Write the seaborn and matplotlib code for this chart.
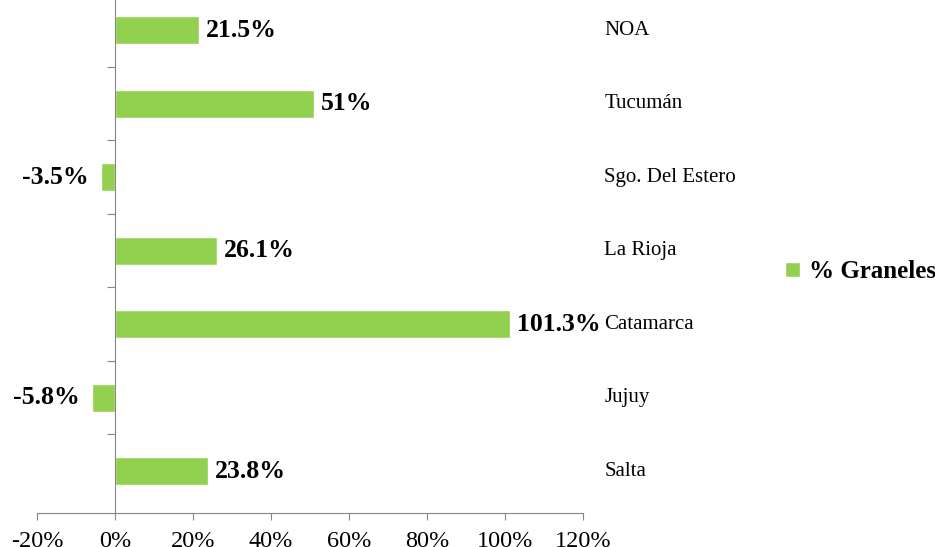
import matplotlib
matplotlib.use('Agg')
import matplotlib.pyplot as plt
import seaborn as sns
import pandas as pd
import numpy as np

regiones = ['NOA', 'Tucumán', 'Sgo. Del Estero', 'La Rioja', 'Catamarca', 'Jujuy', 'Salta']
graneles = [21.5, 51.0, -3.5, 26.1, 101.3, -5.8, 23.8]
etiquetas = ['21.5%', '51%', '-3.5%', '26.1%', '101.3%', '-5.8%', '23.8%']
x_ticks = [-20, 0, 20, 40, 60, 80, 100, 120]

df = pd.DataFrame({'region': regiones, 'valor': graneles})

sns.set_style('white')
plt.rcParams['font.family'] = ['Liberation Serif', 'DejaVu Serif']
plt.rcParams['text.color'] = 'black'
plt.rcParams['xtick.color'] = '#868686'
plt.rcParams['xtick.labelcolor'] = 'black'

fig = plt.figure(figsize=(9.35, 5.47), dpi=100)
ax = fig.add_axes([0.0396, 0.0622, 0.5839, 0.9378])

sns.barplot(data=df, x='valor', y='region', orient='h', color='#92D050',
            width=0.38, saturation=1, label='% Graneles', ax=ax)

ax.set_xlim(-20, 120)
ax.set_ylim(6.57, -0.41)
ax.set_xticks(x_ticks)
ax.set_xticklabels([f'{t}%' for t in x_ticks], fontsize=17.5)
ax.set_yticks(np.arange(0.5, 6.5, 1))
ax.set_yticklabels([])
ax.set_xlabel('')
ax.set_ylabel('')

for s in ['top', 'right']:
    ax.spines[s].set_visible(False)
ax.spines['left'].set_position(('data', 0))
ax.spines['left'].set_color('#868686')
ax.spines['bottom'].set_color('#868686')
ax.tick_params(axis='x', direction='out', length=5, pad=8, bottom=True)
ax.tick_params(axis='y', direction='out', length=6, color='#868686', left=True)

for i, (v, t) in enumerate(zip(graneles, etiquetas)):
    if v >= 0:
        ax.text(v + 1.8, i, t, va='center', ha='left', fontsize=18.5, fontweight='bold')
    else:
        ax.text(v - 3.2, i, t, va='center', ha='right', fontsize=18.5, fontweight='bold')
    ax.text(125.5, i, regiones[i], va='center', ha='left', fontsize=15, clip_on=False)

leg = ax.legend(loc='center left', bbox_to_anchor=(0.840, 0.503), bbox_transform=fig.transFigure,
                frameon=False, handlelength=0.6, handleheight=0.6, handletextpad=0.35,
                borderpad=0, borderaxespad=0, prop={'weight': 'bold', 'size': 18})

fig.savefig('out.png', dpi=100)
